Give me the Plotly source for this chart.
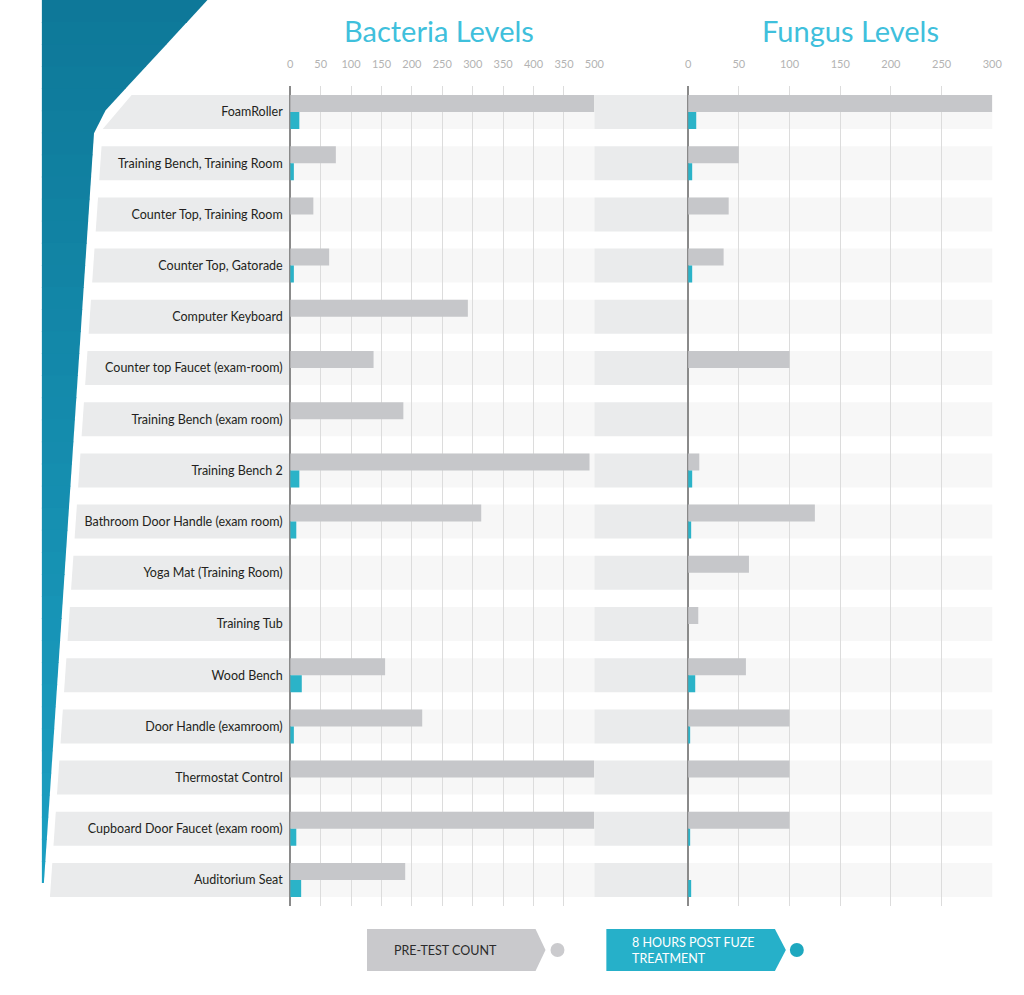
import plotly.graph_objects as go

# ---------------- data ----------------
categories = [
    "FoamRoller",
    "Training Bench, Training Room",
    "Counter Top, Training Room",
    "Counter Top, Gatorade",
    "Computer Keyboard",
    "Counter top Faucet (exam-room)",
    "Training Bench (exam room)",
    "Training Bench 2",
    "Bathroom Door Handle (exam room)",
    "Yoga Mat (Training Room)",
    "Training Tub",
    "Wood Bench",
    "Door Handle (examroom)",
    "Thermostat Control",
    "Cupboard Door Faucet (exam room)",
    "Auditorium Seat",
]
bacteria_pre = [500, 75, 38, 64, 292, 137, 186, 492, 314, None, None, 156, 217, 500, 500, 189]
bacteria_post = [15, 6, None, 6, None, None, None, 15, 10, None, None, 19, 6, None, 10, 18]
fungus_pre = [300, 50, 40, 35, None, 100, None, 11, 125, 60, 10, 57, 100, 100, 100, None]
fungus_post = [8, 4, None, 4, None, None, None, 4, 3, None, None, 7, 2, None, 2, 3]

bacteria_tickvals = [0, 50, 100, 150, 200, 250, 300, 350, 400, 450, 500]
bacteria_ticktext = ["0", "50", "100", "150", "200", "250", "300", "350", "400", "350", "500"]
fungus_tickvals = [0, 50, 100, 150, 200, 250, 300]
fungus_ticktext = ["0", "50", "100", "150", "200", "250", "300"]

titles = ["Bacteria Levels", "Fungus Levels"]
legend_labels = ["PRE-TEST COUNT", "8 HOURS POST FUZE<br>TREATMENT"]

# ---------------- style ----------------
W, H = 1024, 995
GRAY = "#c6c7ca"
TEAL = "#2bb3c8"
TITLE_C = "#3fc0dc"
BAND_DARK = "#eaebec"
BAND_LIGHT = "#f7f7f7"
FONT = "Lato"

# horizontal correction for the page capture (observed ~0.99 scale, +1px)
SX, OX = 0.99, 1.0


def px(x):
    return ((x - OX) / SX) / W


def py(y):
    return 1 - y / H


# plot geometry (pixels, as seen in the target)
B0, B1 = 289, 594      # bacteria axis span
F0, F1 = 688, 993      # fungus axis span
Y_TOP, Y_BOT = 86.4, 905.6
n = len(categories)
pitch = (Y_BOT - Y_TOP) / n
half = 17

fig = go.Figure()

fig.add_trace(go.Bar(y=categories, x=bacteria_pre, orientation="h", xaxis="x", yaxis="y",
                     marker=dict(color=GRAY, line=dict(width=0)), name="pre", showlegend=False,
                     hoverinfo="skip"))
fig.add_trace(go.Bar(y=categories, x=bacteria_post, orientation="h", xaxis="x", yaxis="y",
                     marker=dict(color=TEAL, line=dict(width=0)), name="post", showlegend=False,
                     hoverinfo="skip"))
fig.add_trace(go.Bar(y=categories, x=fungus_pre, orientation="h", xaxis="x2", yaxis="y",
                     marker=dict(color=GRAY, line=dict(width=0)), name="pre", showlegend=False,
                     hoverinfo="skip"))
fig.add_trace(go.Bar(y=categories, x=fungus_post, orientation="h", xaxis="x2", yaxis="y",
                     marker=dict(color=TEAL, line=dict(width=0)), name="post", showlegend=False,
                     hoverinfo="skip"))

shapes = []


def poly_path(points):
    return "M " + " L ".join(f"{px(x)},{py(y)}" for x, y in points) + " Z"


# left decorative teal shape, drawn as vertical-gradient strips
def shape_right(y):
    if y <= 122:
        return 206 + (93 - 206) * y / 122
    return 93 + (42 - 93) * (y - 122) / (883 - 122)


c_top = (14, 120, 152)
c_bot = (27, 160, 195)
NS = 40
for k in range(NS):
    y0 = 883 * k / NS
    y1 = min(883, 883 * (k + 1) / NS + 0.8)
    f = (k + 0.5) / NS
    col = "rgb(%d,%d,%d)" % tuple(round(a + (b - a) * f) for a, b in zip(c_top, c_bot))
    pts = [(40, y0), (shape_right(y0), y0), (shape_right(y1), y1), (40, y1)]
    shapes.append(dict(type="path", xref="paper", yref="paper", path=poly_path(pts),
                       fillcolor=col, line=dict(width=0), layer="below"))


def left_x(y):
    return 101 - 0.0689 * (y - 129)


for i in range(n):
    cy = Y_TOP + pitch * (i + 0.5)
    t, b = cy - half, cy + half
    if i == 0:
        poly = [(130, t), (B0, t), (B0, b), (left_x(b), b)]
    else:
        poly = [(left_x(t), t), (B0, t), (B0, b), (left_x(b), b)]
    shapes.append(dict(type="path", xref="paper", yref="paper", path=poly_path(poly),
                       fillcolor=BAND_DARK, line=dict(width=0), layer="below"))
    shapes.append(dict(type="rect", xref="paper", yref="paper", x0=px(B0), x1=px(B1),
                       y0=py(b), y1=py(t), fillcolor=BAND_LIGHT, line=dict(width=0), layer="below"))
    shapes.append(dict(type="rect", xref="paper", yref="paper", x0=px(B1), x1=px(F0),
                       y0=py(b), y1=py(t), fillcolor=BAND_DARK, line=dict(width=0), layer="below"))
    shapes.append(dict(type="rect", xref="paper", yref="paper", x0=px(F0), x1=px(F1),
                       y0=py(b), y1=py(t), fillcolor=BAND_LIGHT, line=dict(width=0), layer="below"))

# legend shapes
LY0, LY1, LYM = 929, 971, 950
g = [(366, LY0), (535, LY0), (545, LYM), (535, LY1), (366, LY1)]
shapes.append(dict(type="path", xref="paper", yref="paper", path=poly_path(g),
                   fillcolor="#c9c9cc", line=dict(width=0)))
tl = [(606, LY0), (775, LY0), (786, LYM), (775, LY1), (606, LY1)]
shapes.append(dict(type="path", xref="paper", yref="paper", path=poly_path(tl),
                   fillcolor="#26b0c9", line=dict(width=0)))
for cx, col in [(557, "#cbcbce"), (797, "#1ea8bf")]:
    shapes.append(dict(type="circle", xref="paper", yref="paper",
                       x0=px(cx - 7), x1=px(cx + 7), y0=py(LYM + 7), y1=py(LYM - 7),
                       fillcolor=col, line=dict(width=0)))

annotations = [
    dict(text=titles[0], x=px(438), y=py(30), xref="paper", yref="paper",
         showarrow=False, font=dict(family=FONT, size=29, color=TITLE_C), xanchor="center", yanchor="middle"),
    dict(text=titles[1], x=px(851), y=py(30), xref="paper", yref="paper",
         showarrow=False, font=dict(family=FONT, size=29, color=TITLE_C), xanchor="center", yanchor="middle"),
    dict(text=legend_labels[0], x=px(391), y=py(LYM), xref="paper", yref="paper",
         showarrow=False, font=dict(family=FONT, size=12.5, color="#2b2b2b"), xanchor="left", yanchor="middle"),
    dict(text=legend_labels[1], x=px(630), y=py(LYM), xref="paper", yref="paper", align="left",
         showarrow=False, font=dict(family=FONT, size=12.5, color="#ffffff"), xanchor="left", yanchor="middle"),
]

axis_common = dict(
    side="top", showgrid=True, gridcolor="#dcdcdc", gridwidth=1,
    zeroline=True, zerolinecolor="#8a8a8a", zerolinewidth=1.5,
    showline=False, ticks="outside", ticklen=13, tickcolor="rgba(0,0,0,0)",
    tickfont=dict(family=FONT, size=11, color="#b3b3b3"), fixedrange=True,
)

fig.update_layout(
    width=W, height=H, autosize=False,
    margin=dict(l=0, r=0, t=0, b=0),
    paper_bgcolor="white", plot_bgcolor="rgba(0,0,0,0)",
    barmode="group", bargap=1 - 2 * half / pitch, bargroupgap=0,
    xaxis=dict(domain=[px(B0), px(B1)], range=[0, 500], anchor="y",
               tickvals=bacteria_tickvals, ticktext=bacteria_ticktext, **axis_common),
    xaxis2=dict(domain=[px(F0), px(F1)], range=[0, 300], anchor="y",
                tickvals=fungus_tickvals, ticktext=fungus_ticktext, **axis_common),
    yaxis=dict(domain=[py(Y_BOT), py(Y_TOP)], type="category",
               categoryorder="array", categoryarray=categories,
               range=[n - 0.5, -0.5], anchor="x", showgrid=False, zeroline=False,
               showline=False, ticks="outside", ticklen=4, tickcolor="rgba(0,0,0,0)",
               tickfont=dict(family=FONT, size=12.5, color="#231f20"), fixedrange=True),
    shapes=shapes,
    annotations=annotations,
    showlegend=False,
)

fig.write_html("out.html", config={"displayModeBar": False},
               post_script="document.body.style.margin='0';document.body.style.overflow='hidden';")
